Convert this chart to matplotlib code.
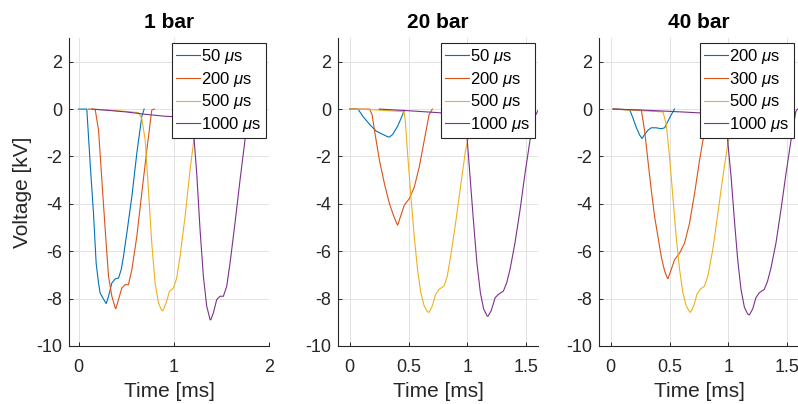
import matplotlib
matplotlib.use("Agg")
import matplotlib.pyplot as plt

plt.rcParams['font.family'] = ['Liberation Sans', 'DejaVu Sans']
plt.rcParams['mathtext.fontset'] = 'custom'
plt.rcParams['mathtext.rm'] = 'Liberation Sans'
plt.rcParams['mathtext.it'] = 'Liberation Sans:italic'
plt.rcParams['axes.unicode_minus'] = False

# ---------------- data ----------------
titles = ["1 bar", "20 bar", "40 bar"]
labels_1 = ["50 $\\mu$s", "200 $\\mu$s", "500 $\\mu$s", "1000 $\\mu$s"]
labels_20 = ["50 $\\mu$s", "200 $\\mu$s", "500 $\\mu$s", "1000 $\\mu$s"]
labels_40 = ["200 $\\mu$s", "300 $\\mu$s", "500 $\\mu$s", "1000 $\\mu$s"]
xlims = [(-0.1, 2.0), (-0.1, 1.6), (-0.1, 1.6)]
xticks_1 = [0, 1, 2]
xticks_20 = [0, 0.5, 1, 1.5]
xticks_40 = [0, 0.5, 1, 1.5]
yticks = [-10, -8, -6, -4, -2, 0, 2]

# 1 bar
t1_a = [0.0, 0.087, 0.122, 0.157, 0.185, 0.21, 0.227, 0.255, 0.29, 0.315, 0.35, 0.385, 0.42, 0.448, 0.472, 0.507, 0.56, 0.612, 0.664, 0.689]
v1_a = [0.0, 0.0, -2.29, -4.39, -6.5, -7.34, -7.76, -7.97, -8.21, -7.9, -7.34, -7.17, -7.13, -6.78, -6.22, -5.24, -3.69, -1.87, -0.32, 0.0]
t1_b = [0.105, 0.175, 0.21, 0.245, 0.28, 0.315, 0.35, 0.385, 0.392, 0.42, 0.455, 0.49, 0.524, 0.56, 0.612, 0.664, 0.717, 0.769, 0.797]
v1_b = [0.0, -0.02, -0.88, -2.99, -5.09, -7.06, -7.9, -8.39, -8.42, -8.04, -7.55, -7.41, -7.41, -6.78, -5.38, -3.55, -1.73, -0.04, 0.0]
t1_c = [0.12, 0.35, 0.5, 0.63, 0.664, 0.7, 0.734, 0.769, 0.804, 0.839, 0.874, 0.885, 0.92, 0.955, 0.997, 1.031, 1.066, 1.119, 1.171, 1.224, 1.259]
v1_c = [0.0, -0.05, -0.1, -0.15, -0.4, -1.3, -3.41, -5.66, -7.34, -8.18, -8.5, -8.52, -8.18, -7.69, -7.55, -7.13, -6.22, -4.53, -2.57, -0.88, 0.0]
t1_d = [0.14, 0.3, 0.5, 0.7, 0.9, 1.1, 1.19, 1.206, 1.241, 1.276, 1.311, 1.346, 1.381, 1.388, 1.416, 1.451, 1.486, 1.521, 1.556, 1.591, 1.643, 1.696, 1.748, 1.783, 1.794]
v1_d = [0.0, -0.05, -0.12, -0.22, -0.3, -0.34, -0.4, -0.88, -2.71, -5.09, -7.06, -8.32, -8.88, -8.9, -8.6, -8.04, -7.9, -7.9, -7.48, -6.5, -4.81, -2.99, -1.3, -0.2, 0.0]

# 20 bar
t20_a = [0.0, 0.07, 0.112, 0.169, 0.225, 0.281, 0.323, 0.337, 0.365, 0.407, 0.435, 0.463]
v20_a = [0.0, 0.0, -0.31, -0.65, -0.93, -1.07, -1.17, -1.18, -1.07, -0.72, -0.4, -0.07]
t20_b = [0.0, 0.169, 0.19, 0.211, 0.253, 0.295, 0.337, 0.371, 0.399, 0.407, 0.435, 0.463, 0.506, 0.548, 0.59, 0.632, 0.674, 0.702]
v20_b = [0.0, 0.0, -0.24, -0.93, -2.18, -3.16, -3.99, -4.48, -4.83, -4.9, -4.48, -4.06, -3.78, -3.3, -2.46, -1.35, -0.24, 0.0]
t20_c = [0.0, 0.2, 0.44, 0.463, 0.472, 0.492, 0.52, 0.548, 0.576, 0.604, 0.632, 0.66, 0.674, 0.702, 0.73, 0.758, 0.801, 0.829, 0.857, 0.899, 0.941, 0.983, 1.025, 1.053, 1.067]
v20_c = [0.0, -0.03, -0.1, -0.15, -0.51, -1.91, -3.71, -5.38, -6.77, -7.75, -8.3, -8.55, -8.58, -8.3, -7.82, -7.61, -7.47, -7.05, -6.22, -4.83, -3.3, -1.77, -0.79, -0.24, 0.0]
t20_d = [0.25, 0.5, 0.75, 0.98, 0.997, 1.025, 1.053, 1.081, 1.11, 1.138, 1.166, 1.174, 1.202, 1.236, 1.264, 1.306, 1.334, 1.362, 1.404, 1.447, 1.489, 1.531, 1.573, 1.607]
v20_d = [0.0, -0.07, -0.15, -0.25, -1.21, -3.02, -4.83, -6.5, -7.75, -8.44, -8.72, -8.75, -8.51, -7.96, -7.82, -7.68, -7.33, -6.77, -5.66, -4.27, -2.74, -1.35, -0.31, 0.0]

# 40 bar
t40_a = [0.02, 0.161, 0.189, 0.218, 0.246, 0.266, 0.288, 0.316, 0.345, 0.387, 0.429, 0.458, 0.486, 0.514, 0.542]
v40_a = [0.0, -0.03, -0.38, -0.79, -1.1, -1.24, -1.07, -0.89, -0.79, -0.79, -0.83, -0.79, -0.51, -0.24, 0.0]
t40_b = [0.02, 0.26, 0.288, 0.316, 0.345, 0.373, 0.401, 0.429, 0.458, 0.48, 0.486, 0.514, 0.542, 0.585, 0.627, 0.669, 0.712, 0.754, 0.797, 0.825, 0.845]
v40_b = [0.0, -0.05, -0.93, -2.18, -3.44, -4.55, -5.38, -6.22, -6.84, -7.12, -7.16, -6.77, -6.36, -6.08, -5.66, -4.83, -3.57, -2.18, -0.93, -0.24, 0.0]
t40_c = [0.02, 0.2, 0.444, 0.472, 0.5, 0.528, 0.556, 0.585, 0.613, 0.641, 0.669, 0.678, 0.706, 0.732, 0.76, 0.797, 0.825, 0.867, 0.91, 0.952, 0.994, 1.037, 1.065]
v40_c = [0.0, -0.05, -0.12, -0.65, -2.04, -3.71, -5.38, -6.77, -7.75, -8.3, -8.55, -8.58, -8.3, -7.82, -7.61, -7.47, -7.05, -5.94, -4.41, -2.88, -1.49, -0.51, 0.0]
t40_d = [0.02, 0.3, 0.6, 0.98, 0.994, 1.023, 1.051, 1.079, 1.107, 1.136, 1.164, 1.178, 1.206, 1.234, 1.263, 1.305, 1.333, 1.362, 1.404, 1.446, 1.489, 1.531, 1.573, 1.588]
v40_d = [0.0, -0.05, -0.12, -0.22, -1.35, -2.88, -4.69, -6.36, -7.61, -8.37, -8.65, -8.69, -8.44, -7.96, -7.75, -7.61, -7.26, -6.7, -5.66, -4.27, -2.74, -1.35, -0.1, 0.0]

colors = ['#0072BD', '#D95319', '#EDB120', '#7E2F8E']

panels = [
    ([(t1_a, v1_a), (t1_b, v1_b), (t1_c, v1_c), (t1_d, v1_d)], labels_1, xticks_1),
    ([(t20_a, v20_a), (t20_b, v20_b), (t20_c, v20_c), (t20_d, v20_d)], labels_20, xticks_20),
    ([(t40_a, v40_a), (t40_b, v40_b), (t40_c, v40_c), (t40_d, v40_d)], labels_40, xticks_40),
]

W, H = 798, 404
fig = plt.figure(figsize=(W / 100, H / 100), dpi=100)

lefts_px = [69, 338, 599]
ax_w_px = 200
bottom_px = 58
ax_h_px = 308
leg_right = [0.985, 0.985, 0.975]

axis_col = '#262626'
for i, (series, labels, xt) in enumerate(panels):
    ax = fig.add_axes([lefts_px[i] / W, bottom_px / H, ax_w_px / W, ax_h_px / H])
    for (t, v), c, lab in zip(series, colors, labels):
        ax.plot(t, v, color=c, lw=0.8, label=lab)
    ax.set_xlim(*xlims[i])
    ax.set_ylim(-10, 3)
    ax.set_xticks(xt)
    ax.set_xticklabels([f"{x:g}" for x in xt])
    ax.set_yticks(yticks)
    ax.set_yticklabels([f"{y:g}" for y in yticks])
    ax.grid(True, color='#e2e2e2', lw=0.7)
    ax.set_axisbelow(True)
    for s in ['top', 'right']:
        ax.spines[s].set_visible(False)
    for s in ['left', 'bottom']:
        ax.spines[s].set_color(axis_col)
        ax.spines[s].set_linewidth(0.8)
    ax.tick_params(direction='in', length=3, width=0.7, color=axis_col,
                   labelsize=13, labelcolor=axis_col, pad=5)
    ax.tick_params(axis='x', pad=9)
    ax.set_title(titles[i], fontsize=15, fontweight='bold', pad=7, color='black')
    ax.set_xlabel("Time [ms]", fontsize=15, labelpad=5, color=axis_col)
    if i == 0:
        ax.set_ylabel("Voltage [kV]", fontsize=15, labelpad=3, color=axis_col)
    leg = ax.legend(loc='upper right', bbox_to_anchor=(leg_right[i], 0.984),
                    borderaxespad=0, fontsize=12, handlelength=1.4,
                    handletextpad=0.1, borderpad=0.25, labelspacing=0.22,
                    fancybox=False, framealpha=1, edgecolor=axis_col)
    leg.get_frame().set_linewidth(0.8)

fig.savefig("out.png", dpi=100)
